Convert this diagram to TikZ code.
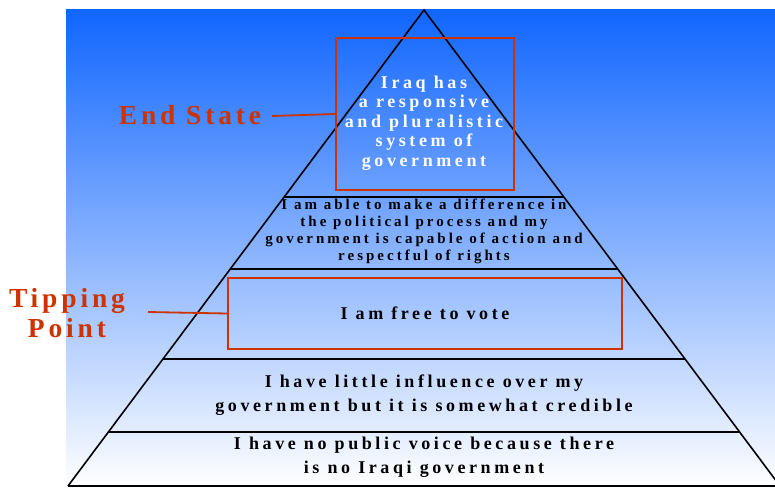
\documentclass[tikz,border=0pt]{standalone}
\usepackage{fontspec}
\newfontfamily\diagfont[LetterSpace=20]{Liberation Serif}
\newfontfamily\calloutfont[LetterSpace=14]{Liberation Serif}
\definecolor{bgtop}{RGB}{17,102,255}
\definecolor{bgmid}{RGB}{165,180,255}
\definecolor{redline}{RGB}{204,51,0}
\begin{document}
\begin{tikzpicture}[x=1pt,y=-1pt,
  side/.style={line width=1.6pt,black},
  redbox/.style={draw=redline,line width=1.8pt,inner sep=0pt},
  redlink/.style={draw=redline,line width=1.8pt},
  lvl/.style={font=\diagfont\bfseries\fontsize{18}{24}\selectfont,align=center,text=black},
  lvltwo/.style={font=\diagfont\bfseries\fontsize{15}{17}\selectfont,align=center,text=black},
  top/.style={font=\diagfont\bfseries\fontsize{18}{19.5}\selectfont,align=center,text=white},
  callout/.style={font=\calloutfont\bfseries\fontsize{27.5}{30}\selectfont,align=center,text=redline}]
\useasboundingbox (0,0) rectangle (775,487);
\shade[top color=bgtop, middle color=bgmid, bottom color=white] (66,10) rectangle (775,487);
\begin{scope}
\clip (0,0) rectangle (775,487);
\coordinate (apex) at (424,10);
\coordinate (bl) at (68,486);
\coordinate (br) at (780,486);
\draw[side,line join=miter] (bl) -- (apex) -- (br);
\draw[side] (bl) -- (br);
\draw[side] (284,197) -- (564,197);
\draw[side] (230,269) -- (618,269);
\draw[side] (163,359) -- (685,359);
\draw[side] (108,432) -- (740,432);
\end{scope}
% boxes
\node[redbox,minimum width=178pt,minimum height=152pt] (endbox) at (425,114) {};
\node[redbox,minimum width=394pt,minimum height=71pt] (tipbox) at (425,313.5) {};
% texts
\node[top] (t1) at (424,123) {Iraq has\\a responsive\\and pluralistic\\system of\\government};
\node[lvltwo] (t2) at (424,231) {I am able to make a difference in\\the political process and my\\government is capable of action and\\respectful of rights};
\node[lvl] (t3) at (425,313) {I am free to vote};
\node[lvl] (t4) at (424,395) {I have little influence over my\\government but it is somewhat credible};
\node[lvl] (t5) at (424,457) {I have no public voice because there\\is no Iraqi government};
% callouts
\node[callout] (endlab) at (190,115) {End State};
\node[callout] (tiplab) at (67,313) {Tipping\\Point};
\coordinate (endstart) at (272,116);
\coordinate (tipstart) at (148,312);
\draw[redlink] (endstart) -- (endbox.west);
\draw[redlink] (tipstart) -- (tipbox.west);
\end{tikzpicture}
\end{document}
